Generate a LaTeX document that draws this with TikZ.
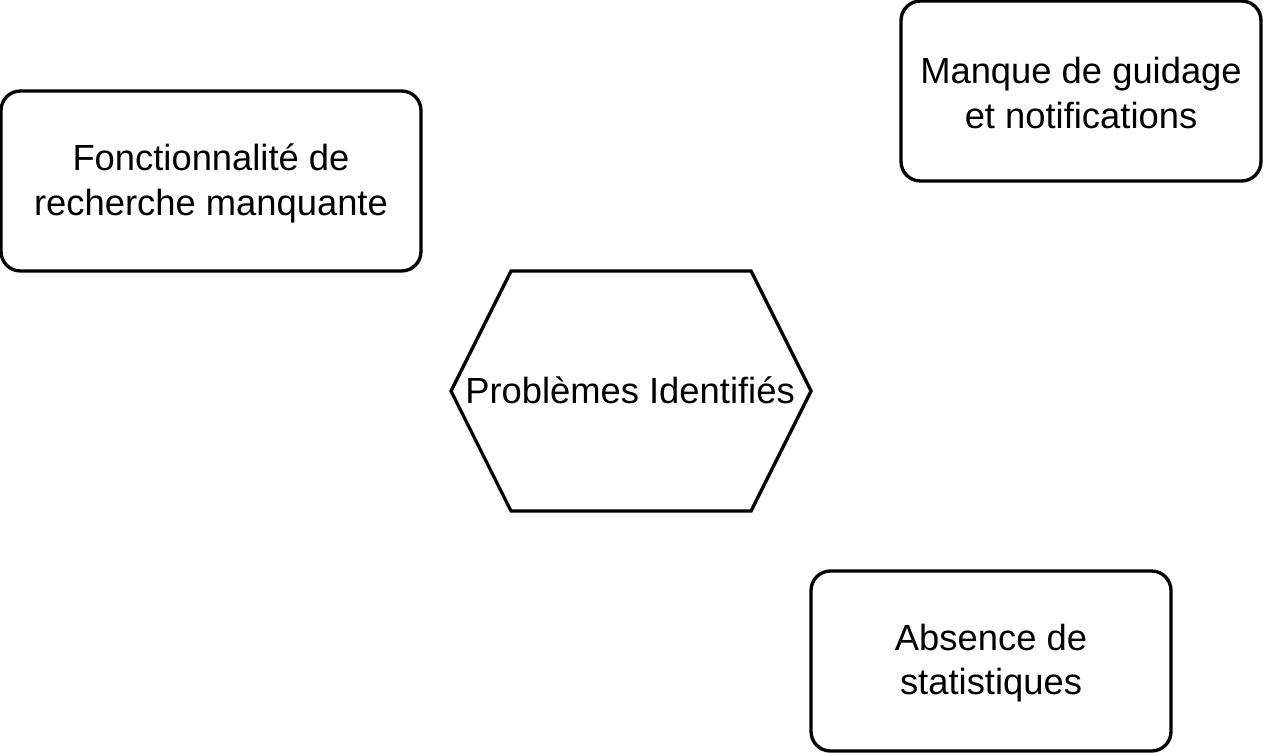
\documentclass[tikz,border=0pt]{standalone}
\usepackage{fontspec}
\setmainfont{Liberation Sans}
\tikzset{
  txt/.style = {align=center, inner sep=0pt, font=\fontsize{20.7}{25.5}\selectfont},
  box/.style = {txt, draw, rounded corners=11pt, minimum height=3.6cm},
}

\begin{document}
\begin{tikzpicture}[x=0.02cm,y=-0.02cm,line width=1.9pt]
\useasboundingbox (0,0) rectangle (1263,753);
\node[box, minimum width=8.4cm] (search) at (211,181) {};
\node[txt] (searchtxt) at (211,183) {Fonctionnalit\'e de\\recherche manquante};
\node[box, minimum width=7.2cm] (guide) at (1081,91) {};
\node[txt] (guidetxt) at (1081,93) {Manque de guidage\\et notifications};
\node[box, minimum width=7.2cm] (stats) at (991,661) {};
\node[txt] (statstxt) at (991,663) {Absence de\\statistiques};
\draw (451,391) -- (511,271) -- (751,271) -- (811,391) -- (751,511) -- (511,511) -- cycle;
\node[txt] (prob) at (630,390) {Probl\`emes Identifi\'es};
\end{tikzpicture}
\end{document}
